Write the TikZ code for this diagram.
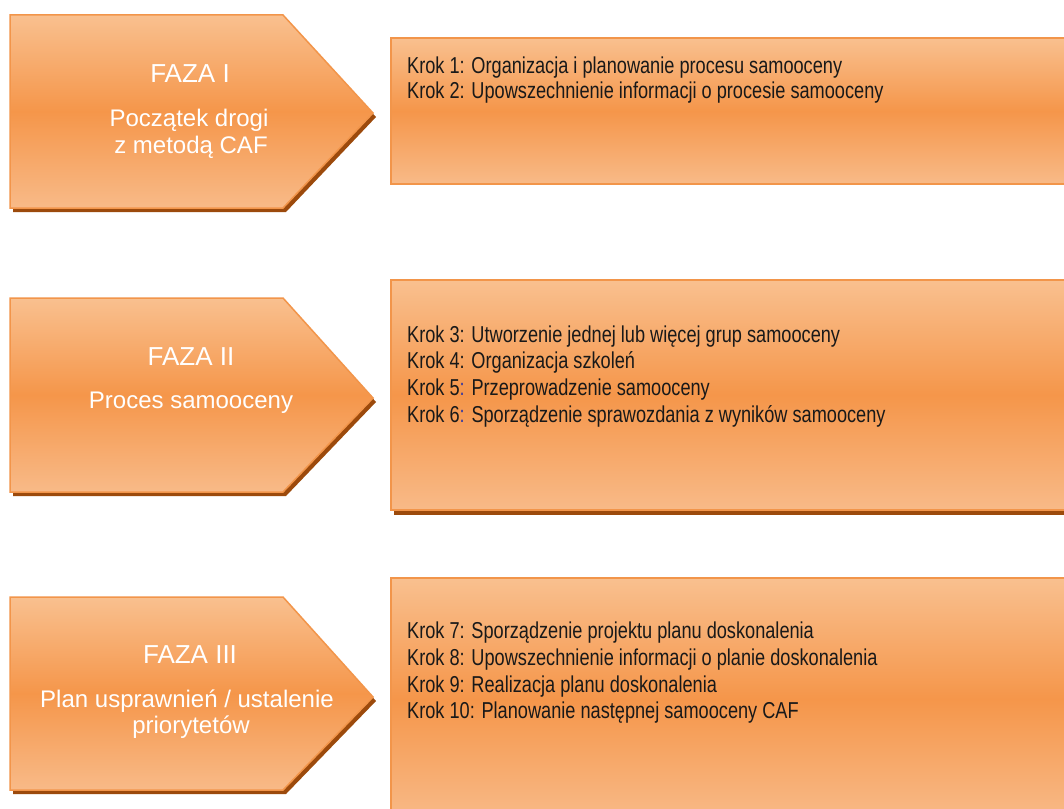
\documentclass[tikz,border=0pt]{standalone}
\usepackage{fontspec}
\setmainfont{Liberation Sans}
\newfontfamily\narrowfont[FakeStretch=0.79]{Liberation Sans}
\definecolor{orTop}{HTML}{F9C08F}
\definecolor{orMid}{HTML}{F5964A}
\definecolor{orBot}{HTML}{F8BA88}
\definecolor{orEdge}{HTML}{F2954A}
\definecolor{orShadow}{HTML}{9C4A0C}
\definecolor{colonblue}{HTML}{3A3AA0}
\begin{document}
\begin{tikzpicture}[x=1pt,y=-1pt,
  phase/.style={top color=orTop, bottom color=orBot, middle color=orMid, draw=orEdge, line width=1.5pt, line join=miter},
  shadowfill/.style={fill=orShadow},
  title/.style={text=white, font=\fontsize{26}{30}\selectfont, anchor=base, inner sep=0pt},
  sub/.style={text=white, font=\fontsize{24}{28}\selectfont, anchor=base, inner sep=0pt},
  steptext/.style={text=black!90, font=\narrowfont\fontsize{23}{27}\selectfont, anchor=base west, inner sep=0pt}]
\useasboundingbox (0,0) rectangle (1064,808);
\fill[white] (0,0) rectangle (1064,808);

% ---------- Phase I ----------
\fill[shadowfill] (13,19) -- (286,19) -- (376,117) -- (286,212) -- (13,212) -- cycle;
\path[phase] (10,15) -- (283,15) -- (373,113) -- (283,208) -- (10,208) -- cycle;
\node[title] (f1) at (190,82) {FAZA I};
\node[sub] (f1a) at (189,126) {Początek drogi};
\node[sub] (f1b) at (191,153) {z metodą CAF};

\path[phase] (391,38) rectangle (1070,184);
\node[steptext] (k1) at (407,73) {Krok 1: Organizacja i planowanie procesu samooceny};
\node[steptext] (k2) at (407,98) {Krok 2: Upowszechnienie informacji o procesie samooceny};

% ---------- Phase II ----------
\fill[shadowfill] (13,302) -- (286,302) -- (376,402) -- (286,496) -- (13,496) -- cycle;
\path[phase] (10,298) -- (283,298) -- (373,398) -- (283,492) -- (10,492) -- cycle;
\node[title] (f2) at (191,365) {FAZA II};
\node[sub] (f2a) at (191,408) {Proces samooceny};

\fill[shadowfill] (394,285) rectangle (1070,515);
\path[phase] (391,280) rectangle (1070,510);
\node[steptext] (k3) at (407,342) {Krok 3: Utworzenie jednej lub więcej grup samooceny};
\node[steptext] (k4) at (407,368) {Krok 4: Organizacja szkoleń};
\node[steptext] (k5) at (407,395) {Krok 5{\color{colonblue}:} Przeprowadzenie samooceny};
\node[steptext] (k6) at (407,422) {Krok 6{\color{colonblue}:} Sporządzenie sprawozdania z wyników samooceny};

% ---------- Phase III ----------
\fill[shadowfill] (13,601) -- (286,601) -- (376,701) -- (286,794) -- (13,794) -- cycle;
\path[phase] (10,597) -- (283,597) -- (373,697) -- (283,790) -- (10,790) -- cycle;
\node[title] (f3) at (190,663) {FAZA III};
\node[sub] (f3a) at (187,707) {Plan usprawnień / ustalenie};
\node[sub] (f3b) at (191,733) {priorytetów};

\path[phase] (391,578) rectangle (1070,820);
\node[steptext] (k7) at (407,638) {Krok 7: Sporządzenie projektu planu doskonalenia};
\node[steptext] (k8) at (407,665) {Krok 8: Upowszechnienie informacji o planie doskonalenia};
\node[steptext] (k9) at (407,692) {Krok 9: Realizacja planu doskonalenia};
\node[steptext] (k10) at (407,718) {Krok 10: Planowanie następnej samooceny CAF};
\end{tikzpicture}
\end{document}
